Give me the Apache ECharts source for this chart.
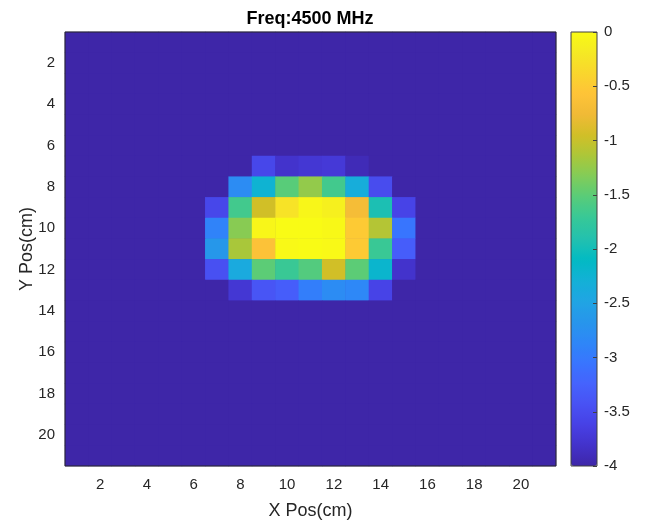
<!DOCTYPE html>
<html>
<head>
<meta charset="utf-8">
<script src="https://cdn.jsdelivr.net/npm/echarts@6/dist/echarts.min.js"></script>
<style>html,body{margin:0;padding:0;background:#fff;}#c{width:646px;height:523px;}</style>
</head>
<body>
<div id="c"></div>
<script>
const xCategories = ['1','2','3','4','5','6','7','8','9','10','11','12','13','14','15','16','17','18','19','20','21'];
const yCategories = ['1','2','3','4','5','6','7','8','9','10','11','12','13','14','15','16','17','18','19','20','21'];
const colorbarTicks = [0, -0.5, -1, -1.5, -2, -2.5, -3, -3.5, -4];
// rows = Y Pos 1..21, columns = X Pos 1..21 (dB)
const zRows = [
  [-4,-4,-4,-4,-4,-4,-4,-4,-4,-4,-4,-4,-4,-4,-4,-4,-4,-4,-4,-4,-4],
  [-4,-4,-4,-4,-4,-4,-4,-4,-4,-4,-4,-4,-4,-4,-4,-4,-4,-4,-4,-4,-4],
  [-4,-4,-4,-4,-4,-4,-4,-4,-4,-4,-4,-4,-4,-4,-4,-4,-4,-4,-4,-4,-4],
  [-4,-4,-4,-4,-4,-4,-4,-4,-4,-4,-4,-4,-4,-4,-4,-4,-4,-4,-4,-4,-4],
  [-4,-4,-4,-4,-4,-4,-4,-4,-4,-4,-4,-4,-4,-4,-4,-4,-4,-4,-4,-4,-4],
  [-4,-4,-4,-4,-4,-4,-4,-4,-4,-4,-4,-4,-4,-4,-4,-4,-4,-4,-4,-4,-4],
  [-4,-4,-4,-4,-4,-4,-4,-4,-3.55,-3.8,-3.75,-3.72,-3.92,-4,-4,-4,-4,-4,-4,-4,-4],
  [-4,-4,-4,-4,-4,-4,-4,-2.8,-2.25,-1.52,-1.25,-1.65,-2.35,-3.5,-4,-4,-4,-4,-4,-4,-4],
  [-4,-4,-4,-4,-4,-4,-3.55,-1.65,-0.95,-0.25,-0.05,-0.12,-0.7,-1.95,-3.6,-4,-4,-4,-4,-4,-4],
  [-4,-4,-4,-4,-4,-4,-2.9,-1.3,-0.05,0,0,-0.03,-0.5,-1.1,-3.05,-4,-4,-4,-4,-4,-4],
  [-4,-4,-4,-4,-4,-4,-2.65,-1.15,-0.6,-0.02,0,-0.02,-0.5,-1.7,-3.3,-4,-4,-4,-4,-4,-4],
  [-4,-4,-4,-4,-4,-4,-3.45,-2.4,-1.5,-1.7,-1.55,-0.95,-1.5,-2.2,-3.8,-4,-4,-4,-4,-4,-4],
  [-4,-4,-4,-4,-4,-4,-4,-3.75,-3.4,-3.3,-2.95,-2.8,-2.85,-3.6,-4,-4,-4,-4,-4,-4,-4],
  [-4,-4,-4,-4,-4,-4,-4,-4,-4,-4,-4,-4,-4,-4,-4,-4,-4,-4,-4,-4,-4],
  [-4,-4,-4,-4,-4,-4,-4,-4,-4,-4,-4,-4,-4,-4,-4,-4,-4,-4,-4,-4,-4],
  [-4,-4,-4,-4,-4,-4,-4,-4,-4,-4,-4,-4,-4,-4,-4,-4,-4,-4,-4,-4,-4],
  [-4,-4,-4,-4,-4,-4,-4,-4,-4,-4,-4,-4,-4,-4,-4,-4,-4,-4,-4,-4,-4],
  [-4,-4,-4,-4,-4,-4,-4,-4,-4,-4,-4,-4,-4,-4,-4,-4,-4,-4,-4,-4,-4],
  [-4,-4,-4,-4,-4,-4,-4,-4,-4,-4,-4,-4,-4,-4,-4,-4,-4,-4,-4,-4,-4],
  [-4,-4,-4,-4,-4,-4,-4,-4,-4,-4,-4,-4,-4,-4,-4,-4,-4,-4,-4,-4,-4],
  [-4,-4,-4,-4,-4,-4,-4,-4,-4,-4,-4,-4,-4,-4,-4,-4,-4,-4,-4,-4,-4]
];
const parula = ['#3E26A8','#4332CB','#4741E5','#4852F4','#4563FD','#3875FE','#2E87F7','#2796EB','#20A5E3','#12B1D6','#02BAC3','#24C1AE','#37C897','#57CC7A','#81CC59','#ABC739','#D1BF27','#F0BA36','#FEC338','#FAD62D','#F5E924','#F9FB15'];

const heatData = [];
for (let yi = 0; yi < yCategories.length; yi++) {
  for (let xi = 0; xi < xCategories.length; xi++) {
    heatData.push([xi, yi, zRows[yi][xi]]);
  }
}
const FONT = 'Liberation Sans Narrow, Arial Narrow, Liberation Sans, Arial, sans-serif';
const FONTW = 'Liberation Sans, Arial, sans-serif';
const TXT = '#262626';
const evenIdx = (i) => (i + 1) % 2 === 0;
const tickStyle = { inside: true, alignWithLabel: true, length: 5, interval: evenIdx, lineStyle: { color: '#262626', width: 1 } };

const chart = echarts.init(document.getElementById('c'), null, { renderer: 'canvas' });
chart.setOption({
  animation: false,
  backgroundColor: '#ffffff',
  title: {
    text: 'Freq:4500 MHz', left: 305, top: 5, textAlign: 'center',
    textStyle: { fontFamily: FONTW, fontSize: 18, fontWeight: 'bold', color: '#000' }
  },
  grid: [
    { left: 65, top: 32, width: 491, height: 434, show: true, borderWidth: 0, backgroundColor: parula[0], z: 0, outerBoundsMode: 'none', containLabel: false },
    { left: 571, top: 32, width: 26, height: 434, show: true, borderColor: '#404040', borderWidth: 1, backgroundColor: 'transparent', z: 20, outerBoundsMode: 'none', containLabel: false },
    { left: 65, top: 32, width: 491, height: 434, show: true, borderColor: '#262626', borderWidth: 1, backgroundColor: 'transparent', z: 20, outerBoundsMode: 'none', containLabel: false }
  ],
  xAxis: [
    { type: 'category', gridIndex: 0, data: xCategories, position: 'bottom', z: 20,
      axisLine: { show: false }, axisTick: tickStyle, splitLine: { show: false },
      axisLabel: { interval: evenIdx, color: TXT, fontFamily: FONT, fontSize: 15, margin: 11 },
      name: 'X Pos(cm)', nameLocation: 'middle', nameGap: 36, nameMoveOverlap: false,
      nameTextStyle: { color: TXT, fontFamily: FONTW, fontSize: 18 } },
    { type: 'category', gridIndex: 0, data: xCategories, position: 'top', z: 20,
      axisLine: { show: false }, axisTick: tickStyle, axisLabel: { show: false }, splitLine: { show: false } },
    { type: 'value', gridIndex: 1, show: false, min: 0, max: 1 },
    { type: 'value', gridIndex: 2, show: false, min: 0, max: 1 }
  ],
  yAxis: [
    { type: 'category', gridIndex: 0, data: yCategories, inverse: true, position: 'left', z: 20,
      axisLine: { show: false }, axisTick: tickStyle, splitLine: { show: false },
      axisLabel: { interval: evenIdx, color: TXT, fontFamily: FONT, fontSize: 15, margin: 10 },
      name: 'Y Pos(cm)', nameLocation: 'middle', nameGap: 29, nameMoveOverlap: false,
      nameTextStyle: { color: TXT, fontFamily: FONTW, fontSize: 18 } },
    { type: 'category', gridIndex: 0, data: yCategories, inverse: true, position: 'right', z: 20,
      axisLine: { show: false }, axisTick: tickStyle, axisLabel: { show: false }, splitLine: { show: false } },
    { type: 'value', gridIndex: 1, position: 'right', min: colorbarTicks[colorbarTicks.length - 1], max: colorbarTicks[0], interval: 0.5, z: 30,
      axisLine: { show: false, onZero: false }, splitLine: { show: false },
      axisTick: { show: true, inside: true, length: 4, lineStyle: { color: '#404040', width: 1 } },
      axisLabel: { color: TXT, fontFamily: FONT, fontSize: 15, margin: 7 } },
    { type: 'value', gridIndex: 2, show: false, min: 0, max: 1 }
  ],
  visualMap: {
    type: 'continuous', min: -4, max: 0, seriesIndex: 0, show: true, calculable: false, hoverLink: false,
    orient: 'vertical', left: 571, top: 32, itemWidth: 26, itemHeight: 434, padding: 0, z: 2,
    inRange: { color: parula }, text: null, showLabel: false
  },
  series: [{
    type: 'heatmap', xAxisIndex: 0, yAxisIndex: 0, data: heatData, progressive: 0, z: 2,
    itemStyle: { borderWidth: 0 }, emphasis: { disabled: true }
  }]
});
</script>
</body>
</html>
